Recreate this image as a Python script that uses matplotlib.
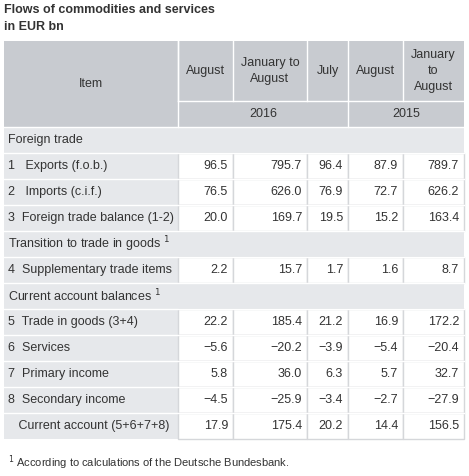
import matplotlib
matplotlib.use("Agg")
import matplotlib.pyplot as plt
from matplotlib.patches import Rectangle

plt.rcParams['font.family'] = ['Liberation Sans', 'DejaVu Sans']

title = "Flows of commodities and services\nin EUR bn"
col_heads = ["August", "January to\nAugust", "July", "August", "January\nto\nAugust"]
years = ["2016", "2015"]
footnote = "According to calculations of the Deutsche Bundesbank."

# rows: (label, values or None for section heading)
rows = [
    ("Foreign trade", None),
    ("1   Exports (f.o.b.)", ["96.5", "795.7", "96.4", "87.9", "789.7"]),
    ("2   Imports (c.i.f.)", ["76.5", "626.0", "76.9", "72.7", "626.2"]),
    ("3  Foreign trade balance (1-2)", ["20.0", "169.7", "19.5", "15.2", "163.4"]),
    ("Transition to trade in goods $^1$", None),
    ("4  Supplementary trade items", ["2.2", "15.7", "1.7", "1.6", "8.7"]),
    ("Current account balances $^1$", None),
    ("5  Trade in goods (3+4)", ["22.2", "185.4", "21.2", "16.9", "172.2"]),
    ("6  Services", ["\u22125.6", "\u221220.2", "\u22123.9", "\u22125.4", "\u221220.4"]),
    ("7  Primary income", ["5.8", "36.0", "6.3", "5.7", "32.7"]),
    ("8  Secondary income", ["\u22124.5", "\u221225.9", "\u22123.4", "\u22122.7", "\u221227.9"]),
    ("   Current account (5+6+7+8)", ["17.9", "175.4", "20.2", "14.4", "156.5"]),
]

xs = [4, 178, 233, 307, 348, 403, 464]
head_top, head_mid, head_bot = 41, 101, 127
row_h = 26
dark = "#c8cbd0"
light = "#e6e8eb"
line = "#d5d7da"
txt = "#333333"
fs = 9

fig = plt.figure(figsize=(4.69, 4.76), dpi=100)
ax = fig.add_axes([0, 0, 1, 1])
ax.set_xlim(0, 469)
ax.set_ylim(476, 0)
ax.axis("off")

ax.text(4, 4, title, fontsize=fs, fontweight="bold", color=txt, va="top", ha="left", linespacing=1.5)

# header
ax.add_patch(Rectangle((xs[0], head_top), xs[-1] - xs[0], head_bot - head_top, fc=dark, ec="none"))
ax.text((xs[0] + xs[1]) / 2, (head_top + head_bot) / 2, "Item", fontsize=fs, color=txt, ha="center", va="center")
for i, h in enumerate(col_heads):
    ax.text((xs[i + 1] + xs[i + 2]) / 2, (head_top + head_mid) / 2, h, fontsize=fs, color=txt,
            ha="center", va="center", linespacing=1.4)
    ax.plot([xs[i + 1], xs[i + 1]], [head_top, head_mid], color="white", lw=1)
ax.plot([xs[1], xs[1]], [head_top, head_bot], color="white", lw=1)
ax.plot([xs[4], xs[4]], [head_mid, head_bot], color="white", lw=1)
ax.plot([xs[1], xs[-1]], [head_mid, head_mid], color="white", lw=1)
ax.text((xs[1] + xs[4]) / 2, (head_mid + head_bot) / 2, years[0], fontsize=fs, color=txt, ha="center", va="center")
ax.text((xs[4] + xs[6]) / 2, (head_mid + head_bot) / 2, years[1], fontsize=fs, color=txt, ha="center", va="center")

y = head_bot
for label, vals in rows:
    yc = y + row_h / 2
    if vals is None:
        ax.add_patch(Rectangle((xs[0], y), xs[-1] - xs[0], row_h, fc=light, ec="none"))
    else:
        ax.add_patch(Rectangle((xs[0], y), xs[1] - xs[0], row_h, fc=light, ec="none"))
        for i, v in enumerate(vals):
            ax.add_patch(Rectangle((xs[i + 1], y), xs[i + 2] - xs[i + 1], row_h, fc="white", ec=line, lw=1))
            ax.text(xs[i + 2] - 5, yc, v, fontsize=fs, color=txt, ha="right", va="center")
    ax.plot([xs[0], xs[-1]], [y, y], color="white", lw=1)
    ax.text(xs[0] + 4, yc, label, fontsize=fs, color=txt, ha="left", va="center")
    y += row_h

ax.text(8, 463, "$^1$ " + footnote, fontsize=8, color=txt, ha="left", va="center")

fig.savefig("out.png", dpi=100)
